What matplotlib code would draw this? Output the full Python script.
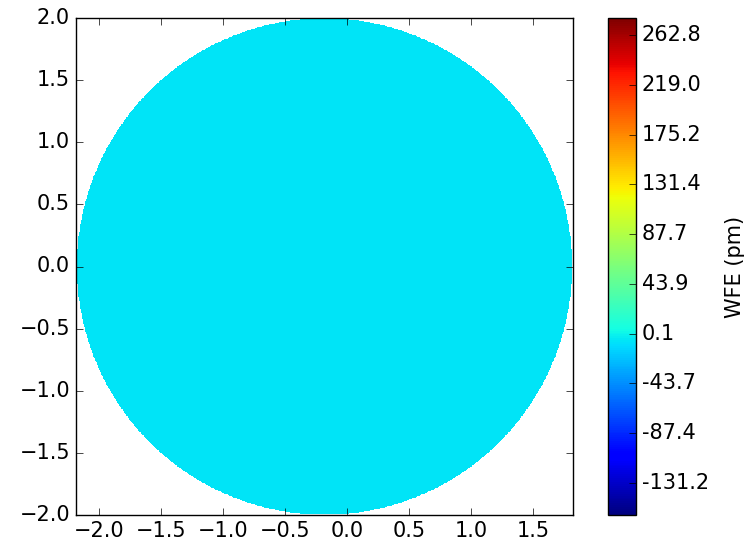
import numpy as np
import matplotlib
matplotlib.use('Agg')
import matplotlib.pyplot as plt

# pupil geometry (data units)
pupil_cx = -0.185
pupil_cy = 0.0
pupil_r = 2.0
x_extent = [-2.19, 1.82]
y_extent = [-2.0, 2.0]

# wavefront error inside the pupil (pm), flat map
wfe_level = -6.0
wfe_min = -159.6
wfe_max = 277.8

cbar_ticks = [-131.2, -87.4, -43.7, 0.1, 43.9, 87.7, 131.4, 175.2, 219.0, 262.8]
cbar_labels = ['-131.2', '-87.4', '-43.7', '0.1', '43.9', '87.7', '131.4', '175.2', '219.0', '262.8']

plt.style.use('classic')
plt.rcParams['font.size'] = 15
plt.rcParams['xtick.labelsize'] = 15
plt.rcParams['ytick.labelsize'] = 15
plt.rcParams['xtick.major.size'] = 5
plt.rcParams['ytick.major.size'] = 5

n = 800
xs = np.linspace(x_extent[0], x_extent[1], n)
ys = np.linspace(y_extent[0], y_extent[1], n)
X, Y = np.meshgrid(xs, ys)
inside = (X - pupil_cx)**2 + (Y - pupil_cy)**2 <= pupil_r**2
wfe = np.ma.masked_where(~inside, np.full(X.shape, wfe_level))

fig = plt.figure(figsize=(7.53, 5.44), dpi=100, facecolor='white')
ax = fig.add_axes([75.5/753, 29/544, 497/753, 497/544])
cax = fig.add_axes([608/753, 29/544, 28/753, 497/544])

im = ax.imshow(wfe, origin='lower', cmap='jet', vmin=wfe_min, vmax=wfe_max,
               extent=[x_extent[0], x_extent[1], y_extent[0], y_extent[1]],
               interpolation='nearest', aspect='auto')
ax.set_xlim(x_extent)
ax.set_ylim(y_extent)
ax.set_xticks([-2.0, -1.5, -1.0, -0.5, 0.0, 0.5, 1.0, 1.5])
ax.set_yticks([-2.0, -1.5, -1.0, -0.5, 0.0, 0.5, 1.0, 1.5, 2.0])

cb = fig.colorbar(im, cax=cax)
cb.set_ticks(cbar_ticks)
cb.set_ticklabels(cbar_labels)
cb.ax.tick_params(labelsize=15)
cb.set_label('WFE (pm)', fontsize=15, labelpad=12)
cb.outline.set_linewidth(1.0)

fig.savefig('out.png', dpi=100, facecolor='white')
